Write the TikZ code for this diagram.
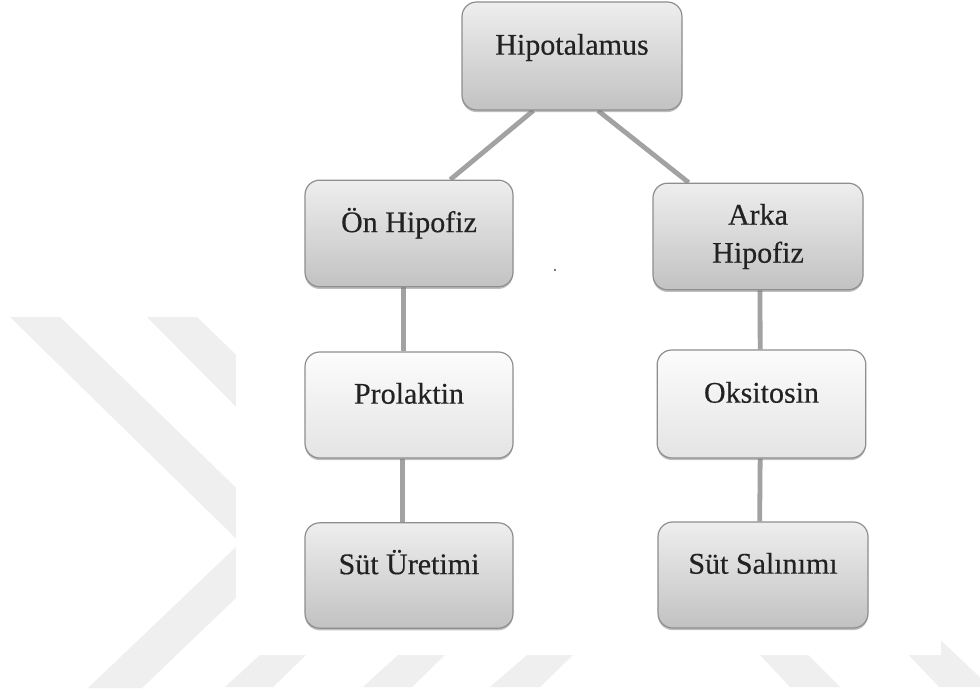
\documentclass[tikz,border=0pt]{standalone}
\usepackage{fontspec}
\setmainfont{Liberation Serif}
\usetikzlibrary{shadows,calc}
\definecolor{wmgray}{HTML}{EFEFEF}
\definecolor{boxline}{HTML}{8E8E8E}
\definecolor{linkgray}{HTML}{A2A2A2}
\definecolor{darktop}{HTML}{EEEEEE}
\definecolor{darkbot}{HTML}{C2C2C2}
\definecolor{lighttop}{HTML}{FCFCFC}
\definecolor{lightbot}{HTML}{E4E4E4}
\definecolor{txtcol}{HTML}{222222}
\pgfdeclarelayer{wm}
\pgfdeclarelayer{background}
\pgfsetlayers{wm,background,main}
\begin{document}
\begin{tikzpicture}[x=0.75pt,y=-0.75pt,
  basebox/.style={draw=boxline, line width=0.9pt, rounded corners=11pt,
    font=\fontsize{22.5}{28.5}\selectfont\addfontfeature{FakeBold=0.4}, text=txtcol,
    align=center, inner sep=0pt,
    drop shadow={shadow xshift=0pt, shadow yshift=-1.6pt, opacity=0.45, fill=black!55}},
  upper/.style={text height=15pt, text depth=17pt},
  darkbox/.style={basebox, top color=darktop, bottom color=darkbot},
  lightbox/.style={basebox, top color=lighttop, bottom color=lightbot},
  link/.style={draw=linkgray, line width=3.6pt},
  wmark/.style={fill=wmgray, draw=none}]
\useasboundingbox (0,0) rectangle (980,698);

% watermark
\begin{pgfonlayer}{wm}
\fill[white] (0,0) rectangle (980,698);
\fill[wmark] (10,317) -- (60,317) -- (260,511) -- (260,562) -- cycle;
\fill[wmark] (88,688) -- (142,688) -- (260,575) -- (260,524) -- cycle;
\fill[wmark] (147,317) -- (197,317) -- (260,378) -- (260,431) -- cycle;
\fill[wmark] (260,655) -- (306,655) -- (273,687) -- (225,687) -- cycle;
\fill[wmark] (398,655) -- (445,655) -- (412,687) -- (363,687) -- cycle;
\fill[wmark] (527,655) -- (573,655) -- (540,687) -- (490,687) -- cycle;
\fill[wmark] (760,655) -- (808,655) -- (840,687) -- (790,687) -- cycle;
\fill[wmark] (866,610) -- (909,610) -- (990,687) -- (939,687) -- cycle;
\fill[white] (236,0) rectangle (941,655);
\end{pgfonlayer}

% boxes
\node[darkbox, upper, minimum width=165pt, minimum height=81pt] (hyp) at (572,56) {Hipotalamus};
\node[darkbox, upper, minimum width=156pt, minimum height=80pt] (on) at (409,233.5) {Ön Hipofiz};
\node[darkbox, minimum width=157.5pt, minimum height=80pt] (arka) at (758,236.5) {Arka\\Hipofiz};
\node[lightbox, upper, minimum width=156pt, minimum height=79.5pt] (pro) at (409,405) {Prolaktin};
\node[lightbox, upper, minimum width=156.5pt, minimum height=81pt] (oks) at (761.5,404) {Oksitosin};
\node[darkbox, upper, minimum width=156pt, minimum height=79pt] (sut1) at (409,575.5) {Süt Üretimi};
\node[darkbox, upper, minimum width=157.5pt, minimum height=79.5pt] (sut2) at (763,575) {Süt Salınımı};

% stray dot
\coordinate (dot) at (555,270);
\fill[black!70] (dot) circle (1.1);

% connectors
\begin{pgfonlayer}{background}
\draw[link] ([xshift=-29pt]hyp.south) -- ([xshift=31pt]on.north);
\draw[link] ([xshift=19.5pt]hyp.south) -- ([xshift=-52pt]arka.north);
\draw[link] ([xshift=-4pt]on.south) -- ([xshift=-4pt]pro.north);
\draw[link] ([xshift=-5pt]pro.south) -- ([xshift=-5pt]sut1.north);
\draw[link] ([xshift=1.5pt]arka.south) -- ([xshift=-1pt]oks.north);
\draw[link] ([xshift=-1pt]oks.south) -- ([xshift=-2.5pt]sut2.north);
\end{pgfonlayer}
\end{tikzpicture}
\end{document}
